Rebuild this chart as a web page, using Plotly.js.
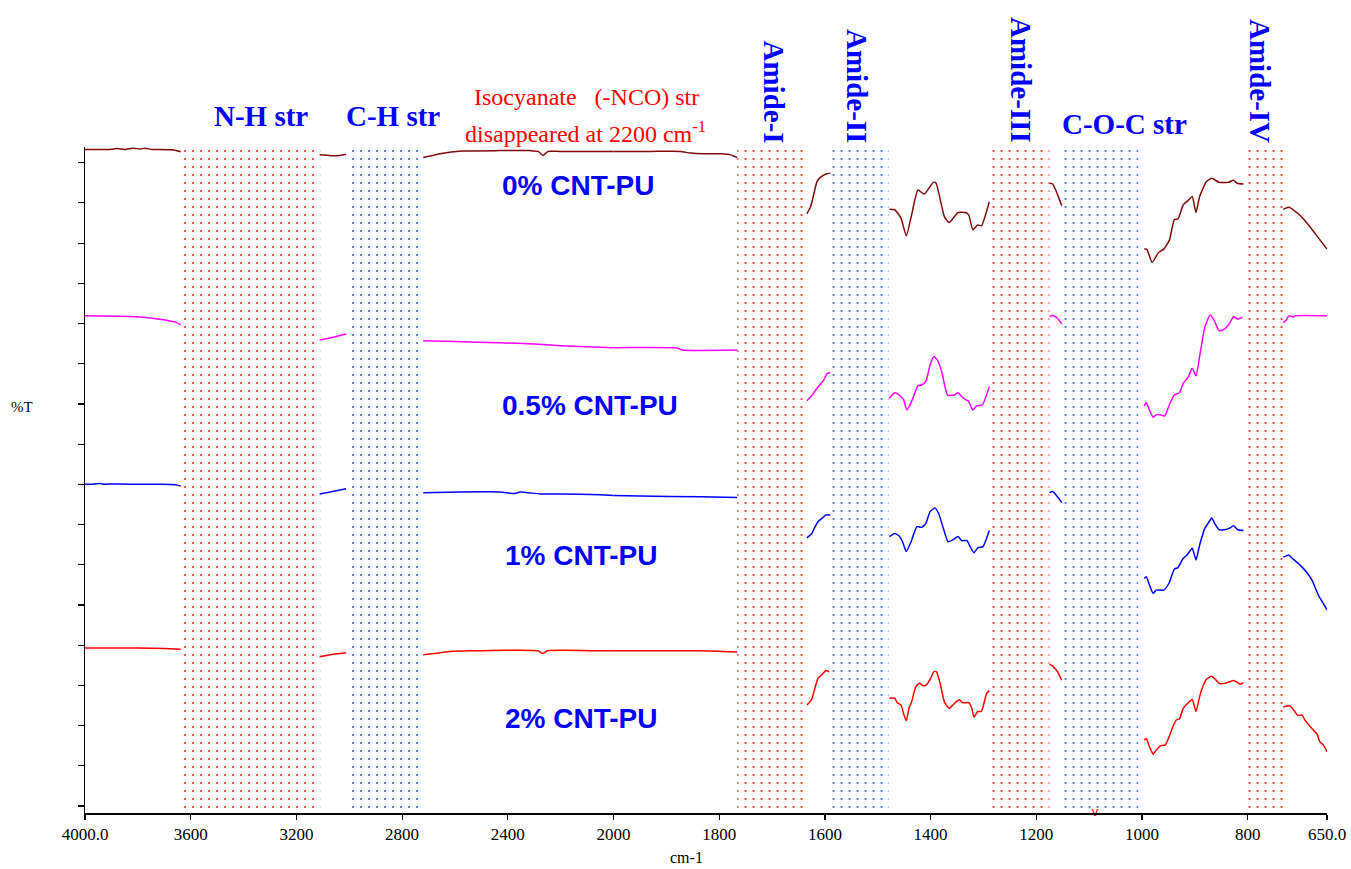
<!DOCTYPE html>
<html><head><meta charset="utf-8">
<script src="https://cdn.plot.ly/plotly-3.0.1.min.js"></script>
<style>html,body{margin:0;padding:0;background:#fff}</style>
</head><body><div id="chart" style="width:1351px;height:869px"></div>
<script>
// ---- data: wavenumber (cm-1) and %T (arbitrary offset units), null = hidden inside a band
const wn0 = [4000,3905,3879,3849,3818,3792,3773,3746,3716,3671,3648,3638,null,
  3112,3092,3062,3035,3012,null,
  2720,2690,2657,2573,2430,2316,2285,2267,2248,2202,2051,1931,1874,1855,1831,1798,1780,1770,1766,null,
  1634,1627,1622,1615,1608,1598,1590,null,
  1478,1468,1456,1446,1436,1424,1412,1395,1390,1374,1365,1348,1334,1328,1320,1311,1304,1289,null,
  1175,1169,1162,1152,null,
  996,991,981,969,959,948,939,932,922,912,905,898,891,878,868,854,837,827,820,808,null,
  733,722,712,699,685,672,661,650];
const t0 = [16.33,16.33,16.35,16.33,16.36,16.34,16.36,16.33,16.33,16.32,16.29,16.27,null,
  16.20,16.19,16.17,16.18,16.21,null,
  16.13,16.17,16.22,16.29,16.30,16.30,16.28,16.18,16.28,16.28,16.28,16.28,16.28,16.24,16.22,16.22,16.20,16.15,16.13,null,
  14.73,14.91,15.16,15.53,15.64,15.72,15.74,null,
  14.84,14.83,14.62,14.18,14.70,15.32,15.22,15.51,15.50,14.66,14.51,14.76,14.76,14.70,14.33,14.45,14.43,15.03,null,
  15.49,15.47,15.28,14.93,null,
  13.85,13.85,13.52,13.76,13.85,14.08,14.58,14.60,14.95,15.07,15.16,14.76,15.16,15.53,15.61,15.51,15.51,15.56,15.49,15.47,null,
  14.84,14.89,14.81,14.66,14.45,14.23,14.04,13.85];

const wn1 = [4000,3868,3792,3754,3697,3659,3638,null,
  3112,3073,3012,null,
  2720,2600,2430,2300,2202,2100,2000,1880,1870,1766,null,
  1634,1624,1615,1606,1602,1596,1590,null,
  1478,1468,1458,1451,1445,1436,1424,1417,1409,1401,1394,1387,1379,1368,1355,1348,1341,1333,1328,1320,1313,1302,1289,null,
  1175,1169,1160,1152,null,
  996,992,986,979,973,966,957,949,939,929,922,912,905,898,891,881,871,864,854,844,834,827,819,810,null,
  733,727,722,716,714,711,650];
const t1 = [12.19,12.18,12.16,12.14,12.09,12.04,11.97,null,
  11.59,11.64,11.74,null,
  11.57,11.55,11.52,11.49,11.45,11.42,11.40,11.39,11.34,11.34,null,
  10.08,10.22,10.39,10.53,10.60,10.75,10.78,null,
  10.14,10.28,10.21,10.10,9.85,10.06,10.45,10.47,10.56,10.97,11.18,11.09,10.80,10.22,10.22,10.28,10.18,10.10,10.06,9.85,9.95,9.98,10.43,null,
  12.17,12.20,12.13,11.99,null,
  9.95,10.03,9.85,9.67,9.73,9.73,9.70,9.95,10.22,10.28,10.51,10.68,10.89,10.70,11.18,11.92,12.21,12.09,11.82,11.86,12.01,12.17,12.11,12.16,null,
  12.02,12.09,12.19,12.17,12.16,12.19,12.19];

const wn2 = [4000,3962,3943,3925,3905,3868,3792,3716,3659,3638,null,
  3112,3073,3012,null,
  2720,2581,2430,2373,2354,2278,2202,2051,1950,1836,1766,null,
  1634,1625,1620,1613,1605,1598,1590,null,
  1478,1468,1460,1453,1446,1437,1426,1417,1409,1401,1392,1385,1376,1367,1358,1348,1341,1331,1326,1318,1310,1301,1289,null,
  1175,1169,1160,1152,null,
  996,992,986,979,973,959,949,939,932,922,915,905,898,891,881,875,868,861,854,844,834,827,819,808,null,
  733,727,722,716,705,695,685,677,672,665,658,650];
const t2 = [8.00,8.01,8.02,8.00,8.01,8.01,8.00,8.00,7.99,7.96,null,
  7.76,7.81,7.89,null,
  7.79,7.81,7.81,7.77,7.81,7.76,7.76,7.74,7.71,7.69,7.67,null,
  6.67,6.77,6.91,7.07,7.16,7.24,7.24,null,
  6.70,6.78,6.72,6.57,6.33,6.57,6.95,6.93,7.03,7.32,7.41,7.28,6.91,6.57,6.62,6.70,6.60,6.60,6.47,6.30,6.43,6.45,6.85,null,
  7.79,7.82,7.69,7.55,null,
  5.66,5.70,5.50,5.29,5.37,5.37,5.54,5.89,5.93,6.16,6.24,6.41,6.12,6.49,6.91,7.03,7.16,6.99,6.87,6.87,6.91,6.97,6.87,6.85,null,
  6.19,6.22,6.24,6.16,6.04,5.91,5.75,5.58,5.42,5.21,5.06,4.88];

const wn3 = [4000,3900,3800,3700,3638,null,
  3112,3073,3012,null,
  2720,2670,2620,2544,2285,2268,2250,2051,1950,1836,1766,null,
  1634,1625,1619,1613,1605,1598,1592,null,
  1478,1468,1463,1456,1451,1446,1441,1436,1428,1421,1414,1408,1399,1394,1389,1382,1374,1365,1358,1352,1345,1340,1328,1322,1318,1311,1304,1294,1289,null,
  1175,1169,1160,1152,null,
  996,992,986,979,973,966,956,950,942,935,929,922,914,905,898,891,885,878,868,860,854,844,834,827,819,814,808,null,
  733,726,720,712,706,697,692,684,677,668,664,657,650];
const t3 = [3.93,3.93,3.93,3.92,3.90,null,
  3.71,3.76,3.81,null,
  3.76,3.80,3.84,3.86,3.86,3.79,3.86,3.86,3.86,3.86,3.83,null,
  2.51,2.65,2.93,3.18,3.28,3.37,3.34,null,
  2.68,2.68,2.57,2.51,2.29,2.12,2.43,2.59,2.97,3.05,2.99,3.01,3.20,3.34,3.34,3.05,2.59,2.43,2.51,2.59,2.64,2.57,2.57,2.43,2.21,2.35,2.35,2.80,2.87,null,
  3.53,3.48,3.34,3.13,null,
  1.64,1.68,1.48,1.29,1.39,1.49,1.52,1.68,1.96,2.14,2.17,2.43,2.55,2.65,2.35,2.72,2.97,3.15,3.23,3.13,3.05,3.05,3.09,3.12,3.07,3.03,3.07,null,
  2.46,2.49,2.49,2.37,2.26,2.26,2.14,2.01,1.91,1.77,1.60,1.52,1.35];

const seriesNames = ['0% CNT-PU','0.5% CNT-PU','1% CNT-PU','2% CNT-PU'];

// absorption bands (cm-1)
const bandNames = ['N-H str','C-H str','Amide-I','Amide-II','Amide-III','C-O-C str','Amide-IV'];
const bandHigh = [3640,3012,1766,1589,1286,1150,808];
const bandLow  = [3110,2725,1636,1479,1175,1007,733];
const bandKind = ['red','grey','red','grey','red','grey','red'];

const peakMarks = [1089];

const ticksHigh = [4000,3600,3200,2800,2400];
const ticksHighText = ['4000.0','3600','3200','2800','2400'];
const ticksLow = [2000,1800,1600,1400,1200,1000,800,650];
const ticksLowText = ['2000','1800','1600','1400','1200','1000','800','650.0'];

// ---- styling
const colors = ['#7f0a0a','#ff00ff','#0000ff','#ff0000'];
const dotColor = {red:'#e3262e', grey:'#46679a'};
const yMin = -0.174, yMax = 16.39;
const bandTopTall = 16.74, bandTopShort = 16.49;
const split = 2000/4700;

const traces = [];
bandHigh.forEach((hi,i)=>{
  const lo = bandLow[i];
  const top = i < 2 ? bandTopTall : bandTopShort;
  traces.push({
    type:'bar', xaxis: hi > 2000 ? 'x' : 'x2', yaxis:'y',
    x:[(hi+lo)/2], y:[top - yMin], base:[yMin], width:[hi-lo],
    cliponaxis:false, hoverinfo:'skip', showlegend:false,
    marker:{color:'rgba(0,0,0,0)', line:{width:0},
      pattern:{shape:'.', fgcolor:dotColor[bandKind[i]], bgcolor:'rgba(0,0,0,0)', size:8, solidity:0.055}}
  });
});
const data = [[wn0,t0],[wn1,t1],[wn2,t2],[wn3,t3]];
data.forEach((d,i)=>{
  ['x','x2'].forEach(ax=>{
    traces.push({type:'scatter', mode:'lines', xaxis:ax, yaxis:'y', x:d[0], y:d[1],
      line:{color:colors[i], width:1.5, shape:'spline', smoothing:0.5}, connectgaps:false, showlegend:false, hoverinfo:'skip'});
  });
});
traces.push({type:'scatter', mode:'text', xaxis:'x2', yaxis:'y', x:peakMarks, y:peakMarks.map(()=>yMin),
  text:peakMarks.map(()=>'v'), textposition:'middle center', cliponaxis:false,
  textfont:{family:'Liberation Sans', size:13, color:'#ff0000'}, showlegend:false, hoverinfo:'skip'});

const axisCommon = {showgrid:false, zeroline:false, showline:true, linecolor:'#000', linewidth:1.5,
  ticks:'outside', ticklen:5, tickwidth:1.2, tickcolor:'#000',
  tickfont:{family:'Liberation Serif', size:17, color:'#000'}, anchor:'y', fixedrange:true};

const blueBold = {family:'Liberation Serif', size:29, color:'#0000ff'};
const sansBold = {family:'Liberation Sans', size:28, color:'#0000ff'};
const redText = {family:'Liberation Serif', size:24, color:'#ff0000'};
const px = v => (v-85)/1242;
const py = v => (813-v)/666;

const annotations = [
  {text:'<b>'+bandNames[0]+'</b>', x:px(261), y:py(116), font:blueBold},
  {text:'<b>'+bandNames[1]+'</b>', x:px(393), y:py(116), font:blueBold},
  {text:'<b>'+bandNames[5]+'</b>', x:px(1124), y:py(124), font:blueBold},
  {text:'<b>'+bandNames[2]+'</b>', x:px(773), y:py(145), yanchor:'bottom', textangle:90, font:blueBold},
  {text:'<b>'+bandNames[3]+'</b>', x:px(857), y:py(145), yanchor:'bottom', textangle:90, font:blueBold},
  {text:'<b>'+bandNames[4]+'</b>', x:px(1021), y:py(145), yanchor:'bottom', textangle:90, font:blueBold},
  {text:'<b>'+bandNames[6]+'</b>', x:px(1260), y:py(145), yanchor:'bottom', textangle:90, font:blueBold},
  {text:'Isocyanate\u00a0\u00a0 (-NCO) str', x:px(586), y:py(97.5), font:redText},
  {text:'disappeared at 2200 cm<sup>-1</sup>', x:px(585), y:py(132.5), font:redText},
  {text:'<b>'+seriesNames[0]+'</b>', x:px(500), y:py(186), xanchor:'left', font:sansBold},
  {text:'<b>'+seriesNames[1]+'</b>', x:px(500), y:py(405), xanchor:'left', font:sansBold},
  {text:'<b>'+seriesNames[2]+'</b>', x:px(503), y:py(555), xanchor:'left', font:sansBold},
  {text:'<b>'+seriesNames[3]+'</b>', x:px(503), y:py(718), xanchor:'left', font:sansBold},
  {text:'%T', x:px(22), y:py(407), font:{family:'Liberation Serif', size:15, color:'#000'}},
  {text:'cm-1', x:px(686), y:py(857), font:{family:'Liberation Serif', size:16, color:'#000'}}
].map(a=>Object.assign({xref:'paper', yref:'paper', showarrow:false, xanchor:'center', yanchor:'middle'}, a));

const layout = {
  width:1351, height:869, margin:{l:85, r:24, t:147, b:56},
  paper_bgcolor:'#ffffff', plot_bgcolor:'#ffffff', showlegend:false, barmode:'overlay',
  font:{family:'Liberation Serif', color:'#000'},
  xaxis:Object.assign({}, axisCommon, {domain:[0,split], range:[4000,2000], tickvals:ticksHigh, ticktext:ticksHighText}),
  xaxis2:Object.assign({}, axisCommon, {domain:[split,1], range:[2000,650], tickvals:ticksLow, ticktext:ticksLowText}),
  yaxis:{range:[yMin,yMax], tickvals:[0,1,2,3,4,5,6,7,8,9,10,11,12,13,14,15,16], showticklabels:false,
    ticks:'outside', ticklen:6, tickwidth:1.2, tickcolor:'#000', showline:true, linecolor:'#000', linewidth:1.5,
    showgrid:false, zeroline:false, anchor:'x', fixedrange:true},
  annotations:annotations
};
Plotly.newPlot('chart', traces, layout, {displayModeBar:false, staticPlot:true});
</script>
</body></html>
